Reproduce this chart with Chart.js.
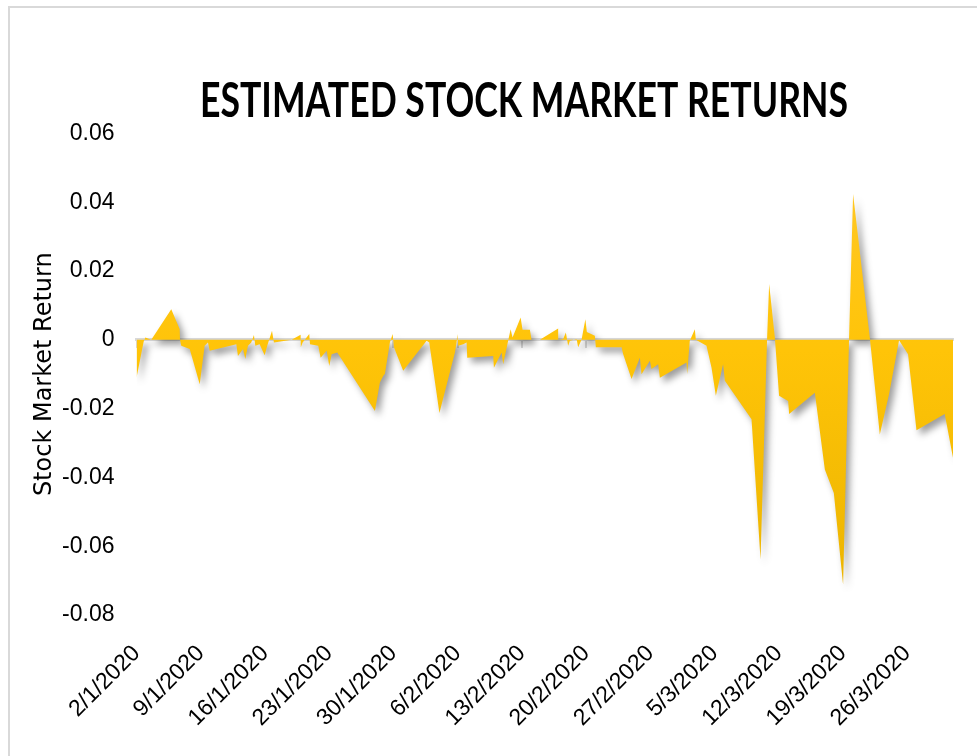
<!DOCTYPE html>
<html>
<head>
<meta charset="utf-8">
<script src="https://cdn.jsdelivr.net/npm/chart.js@4.4.1/dist/chart.umd.min.js"></script>
<style>
  html, body { margin: 0; padding: 0; background: #ffffff; overflow: hidden; }
  #wrap { position: relative; width: 977px; height: 756px; }
  #frame { position: absolute; left: 8px; top: 6px; width: 1000px; height: 800px;
           border-top: 2px solid #d9d9d9; border-left: 2px solid #d9d9d9; }
  canvas { position: absolute; left: 0; top: 0; }
</style>
</head>
<body>
<div id="wrap">
  <div id="frame"></div>
  <canvas id="chart" width="977" height="756"></canvas>
</div>
<script>
// Days since 2 Jan 2020 of each traced vertex of the return series
const dayOffsets = [
  0, 0.78, 0.96, 1.61, 3.79, 4.71, 4.74, 4.88, 5.80, 6.89,
  7.43, 7.79, 7.98, 10.88, 11.06, 11.61, 11.86, 12.15, 12.51, 12.80,
  12.95, 13.42, 13.97, 14.25, 14.77, 14.98, 16.91, 17.89, 17.91, 18.11,
  18.83, 18.91, 19.81, 20.07, 20.73, 21.01, 21.27, 21.88, 25.99, 26.53,
  26.89, 27.08, 27.62, 27.92, 28.06, 29.07, 31.62, 31.91, 33.02, 34.71,
  34.89, 34.96, 35.07, 35.61, 35.98, 36.05, 38.88, 38.96, 39.80, 39.97,
  40.51, 40.78, 40.99, 41.87, 42.08, 42.88, 43.06, 43.97, 45.96, 45.97,
  46.51, 46.80, 47.05, 47.24, 47.97, 48.14, 48.51, 48.93, 49.09, 49.96,
  50.07, 52.87, 53.05, 53.96, 54.87, 55.05, 55.96, 56.14, 56.86, 57.05,
  59.95, 60.02, 60.31, 60.86, 60.97, 62.13, 62.68, 63.15, 63.94, 64.13,
  67.04, 68.02, 68.74, 68.96, 69.58, 70.04, 71.03, 71.14, 73.94, 75.03,
  76.01, 77.02, 77.67, 78.11, 79.93, 81.02, 82.03, 83.12, 84.10, 85.02,
  88.10, 89.00
];
// Estimated stock market returns at those positions
const returns = [
  -0.0110, -0.0006, 0.0007, 0, 0.0089, 0.0031, 0, -0.0017, -0.0027, -0.0129,
  -0.0017, -0.0008, -0.0032, -0.0013, -0.0047, -0.0027, -0.0056, -0.0017, -0.0008, 0.0014,
  -0.0017, -0.0013, -0.0045, -0.0017, 0.0026, -0.0008, 0, 0.0015, -0.0022, -0.0008,
  0.0017, -0.0013, -0.0017, -0.0052, -0.0032, -0.0076, -0.0042, -0.0037, -0.0207, -0.0124,
  -0.0105, -0.0099, -0.0008, 0.0017, -0.0022, -0.0090, -0.0003, -0.0008, -0.0213, -0.0037,
  -0.0008, 0.0017, -0.0017, -0.0013, -0.0008, -0.0052, -0.0047, -0.0081, -0.0037, -0.0071,
  -0.0003, 0.0031, 0.0007, 0.0065, 0.0029, 0.0029, 0, 0, 0.0033, 0,
  0.0002, 0.0021, -0.0017, -0.0003, 0.0002, -0.0022, 0, 0.0060, 0.0023, 0.0012,
  -0.0022, -0.0022, -0.0042, -0.0114, -0.0052, -0.0100, -0.0061, -0.0085, -0.0071, -0.0110,
  -0.0066, -0.0100, -0.0003, 0.0031, 0, -0.0017, -0.0081, -0.0163, -0.0071, -0.0119,
  -0.0231, -0.0639, 0.0007, 0.0162, 0.0007, -0.0163, -0.0178, -0.0216, -0.0154, -0.0377,
  -0.0445, -0.0712, 0.0002, 0.0424, 0.0007, -0.0275, -0.0158, -0.0001, -0.0042, -0.0263,
  -0.0216, -0.0343
];
// Weekly date tick labels (every 7 days from 2/1/2020)
const tickLabels = [
  '2/1/2020', '9/1/2020', '16/1/2020', '23/1/2020', '30/1/2020', '6/2/2020', '13/2/2020',
  '20/2/2020', '27/2/2020', '5/3/2020', '12/3/2020', '19/3/2020', '26/3/2020'
];
const yTickLabels = { '0.06': '0.06', '0.04': '0.04', '0.02': '0.02', '0': '0',
  '-0.02': '-0.02', '-0.04': '-0.04', '-0.06': '-0.06', '-0.08': '-0.08' };

const tickFont = "'Liberation Sans', Arial, sans-serif";
const titleFont = "Lato, 'Open Sans', sans-serif";

const points = dayOffsets.map((d, i) => ({ x: d, y: returns[i] }));

const shadowPlugin = {
  id: 'areaShadow',
  beforeDatasetsDraw(chart) {
    const c = chart.ctx;
    c.save();
    c.shadowColor = 'rgba(0,0,0,0.38)';
    c.shadowBlur = 7;
    c.shadowOffsetX = 4;
    c.shadowOffsetY = 5;
  },
  afterDatasetsDraw(chart) { chart.ctx.restore(); }
};

// Centre the title over x = 524 and narrow it horizontally to the reference width
const titleFit = {
  id: 'titleFit',
  afterLayout(chart) {
    const t = chart.titleBlock;
    if (!t) return;
    const cx = 524, targetWidth = 648;
    t.left = cx - 600;
    t.right = cx + 600;
    if (t._fitWrapped) return;
    const orig = t.draw;
    t.draw = function () {
      const c = this.ctx;
      const f = this.options.font;
      c.save();
      c.font = `${f.weight || 'bold'} ${f.size}px ${f.family}`;
      const w = c.measureText(this.options.text).width;
      const s = w > 0 ? targetWidth / w : 1;
      c.translate(cx, 0);
      c.scale(s, 1);
      c.translate(-cx, 0);
      orig.apply(this, arguments);
      c.restore();
    };
    t._fitWrapped = true;
  }
};

new Chart(document.getElementById('chart'), {
  type: 'line',
  data: {
    datasets: [{
      label: 'Stock Market Return',
      data: points,
      fill: 'origin',
      borderWidth: 0,
      borderColor: 'rgba(0,0,0,0)',
      pointRadius: 0,
      pointHoverRadius: 0,
      tension: 0,
      backgroundColor: (ctx) => {
        const chart = ctx.chart;
        const area = chart.chartArea;
        if (!area) return '#FFC000';
        const g = chart.ctx.createLinearGradient(0, area.top, 0, area.bottom);
        g.addColorStop(0, '#FFC82C');
        g.addColorStop(0.45, '#FFC408');
        g.addColorStop(1, '#EAB300');
        return g;
      }
    }]
  },
  options: {
    responsive: false,
    animation: false,
    layout: { padding: { left: 10, right: 24, top: 0, bottom: 0 } },
    plugins: {
      legend: { display: false },
      tooltip: { enabled: false },
      title: {
        display: true,
        text: 'ESTIMATED STOCK MARKET RETURNS',
        color: '#000000',
        font: { family: titleFont, size: 47, weight: 'bold' },
        padding: { top: 74, bottom: 3 }
      }
    },
    scales: {
      x: {
        type: 'linear',
        position: 'bottom',
        min: 0,
        max: 89,
        grid: { display: false, drawTicks: false },
        border: { display: false },
        afterFit: (scale) => { scale.height = 141; },
        ticks: {
          stepSize: 7,
          includeBounds: false,
          autoSkip: false,
          maxRotation: 45,
          minRotation: 45,
          padding: 25,
          color: '#000000',
          font: { family: tickFont, size: 23 },
          callback: (v) => tickLabels[Math.round(v / 7)]
        }
      },
      x0: {
        type: 'linear',
        position: { y: 0 },
        min: 0,
        max: 89,
        z: 1,
        grid: { display: true, drawOnChartArea: false, drawTicks: true, tickLength: 7, color: '#D9D9D9', lineWidth: 2 },
        border: { display: true, color: '#D9D9D9', width: 3 },
        ticks: { display: false, stepSize: 7, includeBounds: false, autoSkip: false }
      },
      y: {
        type: 'linear',
        min: -0.08,
        max: 0.06,
        grid: { display: false, drawTicks: false },
        border: { display: false },
        afterFit: (scale) => { scale.width = 126.5; },
        ticks: {
          stepSize: 0.02,
          padding: 22,
          color: '#000000',
          font: { family: tickFont, size: 23 },
          callback: (v) => yTickLabels[String(parseFloat(v.toFixed(2)))]
        },
        title: {
          display: true,
          text: 'Stock Market Return',
          color: '#000000',
          font: { family: "'DejaVu Sans', Verdana, sans-serif", size: 24 },
          padding: { top: 20.6, bottom: 0 }
        }
      }
    }
  },
  plugins: [shadowPlugin, titleFit]
});
</script>
</body>
</html>
